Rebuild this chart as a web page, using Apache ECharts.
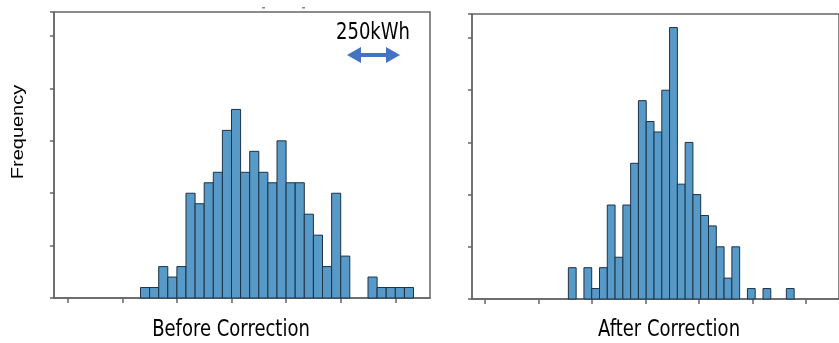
<!DOCTYPE html>
<html>
<head>
<meta charset="utf-8">
<script src="https://cdn.jsdelivr.net/npm/echarts@6/dist/echarts.min.js"></script>
<style>
    html, body { margin: 0; padding: 0; background: #fff; }
    #chart { width: 839px; height: 343px; }
</style>
</head>
<body>
<div id="chart"></div>
<script>
// histogram data (x in kWh, one tick = 250kWh)
var beforeBinStart = 333.33
var beforeBinWidth = 41.67
var beforeCounts = [1, 1, 3, 2, 3, 10, 9, 11, 12, 16, 18, 12, 14, 12, 11, 15, 11, 11, 8, 6, 3, 10, 4, 0, 0, 2, 1, 1, 1, 1]
var afterBinStart = 388.7
var afterBinWidth = 36.4
var afterCounts = [3, 0, 3, 1, 3, 9, 4, 9, 13, 19, 17, 16, 20, 26, 11, 15, 10, 8, 7, 5, 2, 5, 0, 1, 0, 1, 0, 0, 1]
var xTicks = [0, 250, 500, 750, 1000, 1250, 1500]
var panelTitles = ['Before Correction', 'After Correction']

var frameColor = '#666'
var barFill = '#5799c7'
var barEdge = '#1d3346'

function toBins(start, width, counts) {
    var out = []
    counts.forEach(function (c, i) {
        if (c > 0) {
            out.push([start + i * width, start + (i + 1) * width, c])
        }
    })
    return out
}

function renderBar(params, api) {
    var p0 = api.coord([api.value(0), api.value(2)])
    var p1 = api.coord([api.value(1), 0])
    return {
        type: 'rect',
        shape: { x: p0[0], y: p0[1], width: p1[0] - p0[0], height: p1[1] - p0[1] },
        style: { fill: barFill, stroke: barEdge, lineWidth: 1 }
    }
}

function makeX(idx, min, max) {
    return {
        gridIndex: idx,
        type: 'value',
        min: min,
        max: max,
        axisLine: { show: true, onZero: false, lineStyle: { color: frameColor, width: 1.5 } },
        axisTick: { show: true, length: 5, customValues: xTicks, lineStyle: { color: frameColor, width: 1.5 } },
        axisLabel: { show: false, customValues: xTicks },
        splitLine: { show: false }
    }
}

function makeY(idx) {
    return {
        gridIndex: idx,
        type: 'value',
        min: 0,
        max: 27.3,
        interval: 5,
        axisLine: { show: true, onZero: false, lineStyle: { color: frameColor, width: 1.5 } },
        axisTick: { show: true, length: 4, lineStyle: { color: frameColor, width: 1.5 } },
        axisLabel: { show: false },
        splitLine: { show: false }
    }
}

var myChart = echarts.init(document.getElementById('chart'))

var option = {
    animation: false,
    grid: [
        { left: 54, top: 12, width: 376, height: 286, show: true, borderColor: frameColor, borderWidth: 1.5 },
        { left: 472, top: 14, width: 372, height: 285, show: true, borderColor: frameColor, borderWidth: 1.5 }
    ],
    xAxis: [makeX(0, -62.7, 1658.9), makeX(1, -61.8, 1654)],
    yAxis: [makeY(0), makeY(1)],
    series: [
        {
            type: 'custom',
            xAxisIndex: 0,
            yAxisIndex: 0,
            renderItem: renderBar,
            encode: { x: [0, 1], y: 2 },
            data: toBins(beforeBinStart, beforeBinWidth, beforeCounts)
        },
        {
            type: 'custom',
            xAxisIndex: 1,
            yAxisIndex: 1,
            renderItem: renderBar,
            encode: { x: [0, 1], y: 2 },
            data: toBins(afterBinStart, afterBinWidth, afterCounts)
        }
    ],
    graphic: [
        // y axis title
        {
            type: 'text', x: 19, y: 132, rotation: Math.PI / 2, scaleX: 1.25,
            style: { text: 'Frequency', fill: '#000', font: '16px "Liberation Sans"', align: 'center', verticalAlign: 'middle' }
        },
        // panel titles
        {
            type: 'text', x: 231, y: 330, scaleY: 1.25,
            style: { text: panelTitles[0], fill: '#000', font: '18px "DejaVu Sans"', align: 'center', verticalAlign: 'middle' }
        },
        {
            type: 'text', x: 669, y: 330, scaleY: 1.25,
            style: { text: panelTitles[1], fill: '#000', font: '18px "DejaVu Sans"', align: 'center', verticalAlign: 'middle' }
        },
        // scale marker
        {
            type: 'text', x: 373, y: 33, scaleY: 1.25,
            style: { text: '250kWh', fill: '#000', font: '18px "DejaVu Sans"', align: 'center', verticalAlign: 'middle' }
        },
        {
            type: 'polygon',
            shape: {
                points: [[347, 55], [361, 47], [361, 53], [386, 53], [386, 47], [400, 55],
                    [386, 63], [386, 57], [361, 57], [361, 63]]
            },
            style: { fill: '#4472c4' }
        },
        // cut-off marks above left panel
        { type: 'rect', shape: { x: 262, y: 7, width: 3, height: 1.5 }, style: { fill: '#888' } },
        { type: 'rect', shape: { x: 302, y: 7, width: 3, height: 1.5 }, style: { fill: '#888' } }
    ]
}

myChart.setOption(option)
</script>
</body>
</html>
